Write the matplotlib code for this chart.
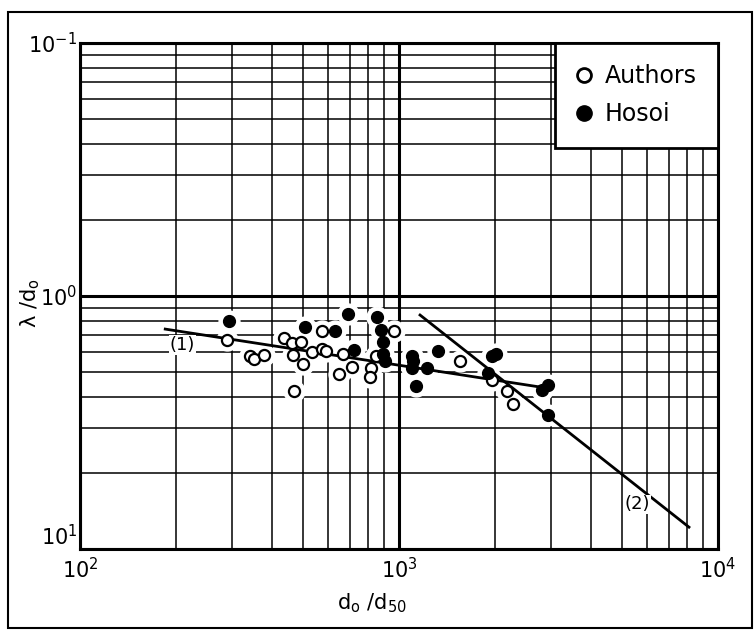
import matplotlib
matplotlib.use('Agg')
import matplotlib.pyplot as plt
from matplotlib.patches import Rectangle
from matplotlib.lines import Line2D

# ---- data ----
authors_x = [289, 341, 351, 378, 436, 462, 493, 465, 500, 469, 533, 574, 574, 591,
             667, 648, 712, 817, 811, 847, 964, 1552, 1958, 2182, 2277]
authors_y = [0.669, 0.578, 0.562, 0.583, 0.681, 0.651, 0.657, 0.583, 0.537, 0.420,
             0.600, 0.726, 0.616, 0.605, 0.589, 0.490, 0.523, 0.518, 0.477, 0.578,
             0.726, 0.552, 0.464, 0.420, 0.373]

hosoi_x = [293, 507, 630, 692, 854, 879, 891, 723, 891, 904, 1099, 1107, 1099, 1225,
           1130, 1324, 1958, 2016, 1901, 2807, 2931, 2931]
hosoi_y = [0.796, 0.753, 0.726, 0.848, 0.825, 0.733, 0.657, 0.610, 0.589, 0.552,
           0.578, 0.552, 0.518, 0.518, 0.440, 0.605, 0.578, 0.589, 0.495, 0.424,
           0.444, 0.339]

line1_x = [185, 2825]
line1_y = [0.740, 0.435]
line2_x = [1164, 8110]
line2_y = [0.841, 0.122]

x_ticks = [1e2, 1e3, 1e4]
x_tick_labels = [r'$\mathregular{10^{2}}$', r'$\mathregular{10^{3}}$', r'$\mathregular{10^{4}}$']
y_ticks = [0.1, 1, 10]
y_tick_labels = [r'$\mathregular{10^{1}}$', r'$\mathregular{10^{0}}$', r'$\mathregular{10^{-1}}$']

legend_labels = ['Authors', 'Hosoi']

# ---- figure ----
fig = plt.figure(figsize=(7.56, 6.3), dpi=100)
ax = fig.add_axes([80 / 756, 1 - 549 / 630, (718 - 80) / 756, (549 - 43) / 630])
ax.set_xscale('log')
ax.set_yscale('log')
ax.set_xlim(1e2, 1e4)
ax.set_ylim(0.1, 10)

ax.set_axisbelow(True)
ax.grid(which='major', color='black', lw=2.2)
ax.grid(which='minor', color='black', lw=1.1)
for s in ax.spines.values():
    s.set_linewidth(2.2)

ax.set_xticks(x_ticks)
ax.set_xticklabels(x_tick_labels)
ax.set_yticks(y_ticks)
ax.set_yticklabels(y_tick_labels)
ax.tick_params(which='both', length=0, labelsize=15)
ax.tick_params(axis='x', pad=6)
ax.tick_params(axis='y', pad=2)
ax.get_yticklabels()[0].set_va('bottom')

# white halos cut the grid around the points
ax.plot(authors_x, authors_y, 'o', ms=15, color='white', mec='white', zorder=2.2)
ax.plot(hosoi_x, hosoi_y, 'o', ms=15, color='white', mec='white', zorder=2.2)

ax.plot(line1_x, line1_y, color='black', lw=2.0, zorder=2.6)
ax.plot(line2_x, line2_y, color='black', lw=2.0, zorder=2.6)

ax.plot(authors_x, authors_y, 'o', ms=8, mfc='white', mec='black', mew=1.6, zorder=3)
ax.plot(hosoi_x, hosoi_y, 'o', ms=8.5, mfc='black', mec='black', mew=1.0, zorder=3.1)

ax.text(209, 0.639, '(1)', fontsize=13, ha='center', va='center', zorder=4,
        bbox=dict(fc='white', ec='none', pad=0.5))
ax.text(5600, 0.150, '(2)', fontsize=13, ha='center', va='center', zorder=4,
        bbox=dict(fc='white', ec='none', pad=0.5))

handles = [Line2D([], [], ls='none', marker='o', ms=10, mfc='white', mec='black', mew=2.0),
           Line2D([], [], ls='none', marker='o', ms=11, mfc='black', mec='black')]
leg = ax.legend(handles, legend_labels, loc='upper right', borderaxespad=0,
                fancybox=False, framealpha=1, edgecolor='black', fontsize=17,
                borderpad=0.9, labelspacing=0.6, handlelength=0.6, handletextpad=0.6)
leg.get_frame().set_linewidth(2)
leg.set_zorder(5)

fig.text(372 / 756, 1 - 603 / 630, r'$\mathregular{d_{o}\ /d_{50}}$', fontsize=15,
         ha='center', va='center')
fig.text(30 / 756, 1 - 303 / 630, r'$\mathregular{\lambda\ /d_{o}}$', fontsize=15,
         ha='center', va='center', rotation=90)

fig.patches.append(Rectangle((8 / 756, 2 / 630), (752 - 8) / 756, (628 - 12) / 630,
                             transform=fig.transFigure, fill=False, ec='black', lw=1.5))

fig.savefig('out.png', dpi=100)
